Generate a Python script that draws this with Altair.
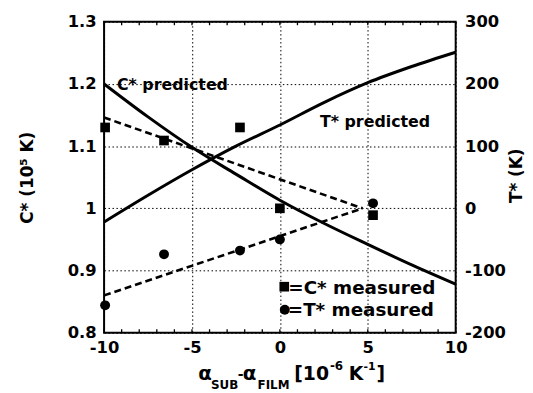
import altair as alt
import pandas as pd

# ---- data ----
x_pred = [-10, -7.5, -5, -2.5, 0, 2.5, 5, 7.5, 10]
c_pred = [1.200, 1.147, 1.098, 1.055, 1.013, 0.976, 0.942, 0.909, 0.878]
t_pred = [-22, 21, 62, 100, 134, 170, 202, 228, 251]

x_meas = [-9.94, -6.59, -2.27, 0.0, 5.3]
c_meas = [1.130, 1.109, 1.130, 1.000, 0.989]
t_meas = [-156, -74, -68, -50, 8]

x_fit = [-10, 4.7]
c_fit = [1.146, 1.0]
t_fit = [-140, 0]

x_minor_ticks = [-10, -9, -8, -7, -6, -5, -4, -3, -2, -1, 0, 1, 2, 3, 4, 5, 6, 7, 8, 9, 10]
x_tick_labels = [-10, -5, 0, 5, 10]
c_tick_labels = [0.8, 0.9, 1.0, 1.1, 1.2, 1.3]
t_tick_labels = [-200, -100, 0, 100, 200, 300]

FONT = "DejaVu Sans"
W, H = 355, 314

pred_df = pd.DataFrame({"x": x_pred, "c": c_pred, "t": t_pred})
meas_df = pd.DataFrame({"x": x_meas, "c": c_meas, "t": t_meas})
fit_df = pd.DataFrame({"x": x_fit, "c": c_fit, "t": t_fit})
tick_df = pd.DataFrame({"x": x_minor_ticks})
one = pd.DataFrame({"a": [0]})

x_scale = alt.Scale(domain=[-10, 10], nice=False, zero=False, padding=0)
x_axis = alt.Axis(values=x_tick_labels, labelExpr="'' + datum.value", grid=True,
                  gridDash=[1.5, 2.5], gridColor="black", gridWidth=1, ticks=False,
                  domain=False, labelFont=FONT, labelFontWeight="bold", labelFontSize=16.5,
                  labelColor="black", labelPadding=7, labelFlush=False, title=None)


def X():
    return alt.X("x:Q", scale=x_scale, axis=x_axis)


c_axis = alt.Axis(values=c_tick_labels, labelExpr="'' + datum.value", grid=True,
                  gridDash=[1.5, 2.5], gridColor="black", gridWidth=1, ticks=False,
                  domain=False, labelFont=FONT, labelFontWeight="bold", labelFontSize=16.5,
                  labelColor="black", labelPadding=8, labelFlush=False,
                  title="C* (10\u2075 K)", titleFont=FONT, titleFontWeight="bold",
                  titleFontSize=17, titleColor="black", titleAngle=270, titleX=-77,
                  titleY=H / 2, titleAlign="center", titleBaseline="middle")
t_axis = alt.Axis(values=t_tick_labels, labelExpr="'' + datum.value", grid=False,
                  ticks=False, domain=False, orient="right",
                  labelFont=FONT, labelFontWeight="bold", labelFontSize=16.5,
                  labelColor="black", labelPadding=9, labelFlush=False,
                  title="T* (K)", titleFont=FONT, titleFontWeight="bold",
                  titleFontSize=17, titleColor="black", titleAngle=270, titleX=61,
                  titleY=H / 2 - 2, titleAlign="center", titleBaseline="middle")


def YC(field="c"):
    return alt.Y(f"{field}:Q", scale=alt.Scale(domain=[0.8, 1.3], nice=False, zero=False, padding=0), axis=c_axis)


def YT():
    return alt.Y("t:Q", scale=alt.Scale(domain=[-200, 300], nice=False, zero=False, padding=0), axis=t_axis)


# ---- left (C*) group ----
c_line = alt.Chart(pred_df).mark_line(color="black", strokeWidth=3, interpolate="monotone").encode(x=X(), y=YC())
c_fit_line = alt.Chart(fit_df).mark_line(color="black", strokeWidth=2.6, strokeDash=[7, 4]).encode(x=X(), y=YC())
c_pts = alt.Chart(meas_df).mark_point(shape="square", filled=True, color="black", size=95, opacity=1).encode(x=X(), y=YC())

ticks_bottom = alt.Chart(tick_df).mark_rule(color="black", strokeWidth=1.3).encode(
    x=X(), y=alt.value(H), y2=alt.value(H - 3.5))
ticks_top = alt.Chart(tick_df).mark_rule(color="black", strokeWidth=1.3).encode(
    x=X(), y=alt.value(0), y2=alt.value(3.5))


def label(x, c, text, size):
    return alt.Chart(pd.DataFrame({"x": [x], "c": [c]})).mark_text(
        text=text, font=FONT, fontWeight="bold", fontSize=size, color="black",
        align="left", baseline="alphabetic").encode(x=X(), y=YC())


lab_c = label(-9.27, 1.19, "C* predicted", 16)
lab_t = label(2.28, 1.130, "T* predicted", 16)
leg_sq = alt.Chart(pd.DataFrame({"x": [0.25], "c": [0.874]})).mark_point(
    shape="square", filled=True, color="black", size=95, opacity=1).encode(x=X(), y=YC())
leg_ci = alt.Chart(pd.DataFrame({"x": [0.28], "c": [0.837]})).mark_point(
    shape="circle", filled=True, color="black", size=100, opacity=1).encode(x=X(), y=YC())
leg_t1 = label(0.48, 0.862, "=C* measured", 18.5)
leg_t2 = label(0.45, 0.8275, "=T* measured", 18.5)


def piece(text, px, py, size):
    # x-axis title pieces (sub/superscripts), pixel placement relative to plot area
    return alt.Chart(one).mark_text(
        text=text, font=FONT, fontWeight="bold", fontSize=size, color="black",
        align="left", baseline="alphabetic").encode(x=alt.value(px), y=alt.value(py))


ox, oy = 105, 20
xt = [
    piece("\u03b1", 200 - ox, 382 - oy, 20),
    piece("SUB", 213 - ox, 391 - oy, 12),
    piece("-", 240 - ox, 381 - oy, 14),
    piece("\u03b1", 245 - ox, 382 - oy, 20),
    piece("FILM", 260 - ox, 391 - oy, 12),
    piece("[10", 297 - ox, 382 - oy, 19),
    piece("-6", 333 - ox, 372 - oy, 12),
    piece("K", 352 - ox, 382 - oy, 19),
    piece("-1", 367 - ox, 372 - oy, 11),
    piece("]", 380 - ox, 382 - oy, 19),
]

left = alt.layer(c_line, c_fit_line, c_pts, ticks_bottom, ticks_top,
                 lab_c, lab_t, leg_sq, leg_ci, leg_t1, leg_t2, *xt)

# ---- right (T*) group ----
t_line = alt.Chart(pred_df).mark_line(color="black", strokeWidth=3, interpolate="monotone").encode(x=X(), y=YT())
t_fit_line = alt.Chart(fit_df).mark_line(color="black", strokeWidth=2.6, strokeDash=[7, 4]).encode(x=X(), y=YT())
t_pts = alt.Chart(meas_df).mark_point(shape="circle", filled=True, color="black", size=100, opacity=1).encode(x=X(), y=YT())

right = alt.layer(t_line, t_fit_line, t_pts)

chart = alt.layer(left, right).resolve_scale(y="independent").properties(
    width=W, height=H,
    autosize=alt.AutoSizeParams(type="none"),
    padding={"left": 97, "top": 12, "right": 70, "bottom": 58},
    background="white",
).configure_view(stroke="black", strokeWidth=2)

chart.save("out.html", embed_options={"renderer": "svg", "actions": False})
